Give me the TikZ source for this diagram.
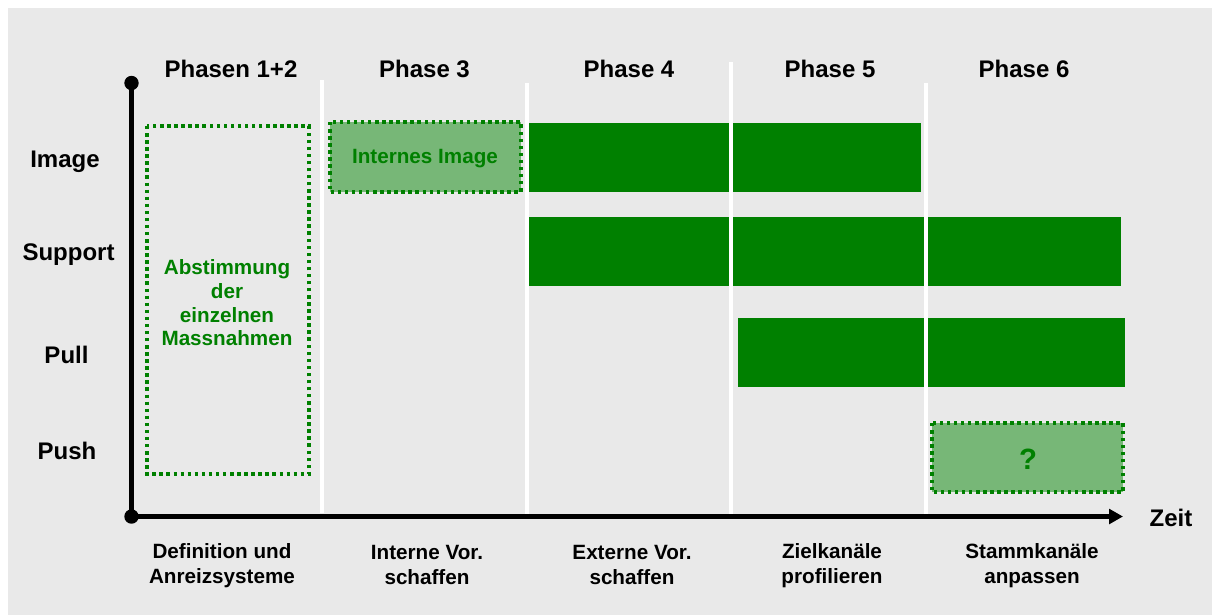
\documentclass[tikz,border=0pt]{standalone}
\usepackage{fontspec}
\setmainfont{Liberation Sans}
\usetikzlibrary{arrows.meta}

\definecolor{panelgray}{RGB}{233,233,233}
\definecolor{bargreen}{RGB}{0,128,0}
\definecolor{softgreen}{RGB}{119,183,119}

\tikzset{
  bar/.style={fill=bargreen},
  plan/.style={draw=bargreen, line width=3pt, dash pattern=on 2.6pt off 2.7pt},
  divider/.style={draw=white, line width=3.2pt},
  axis/.style={line width=3.2pt},
  phase/.style={font=\bfseries\fontsize{18}{21}\selectfont, inner sep=0.75pt},
  task/.style={font=\bfseries\fontsize{15.5}{18.75}\selectfont, align=center, inner sep=0.75pt},
  note/.style={font=\bfseries\fontsize{15.5}{17.8}\selectfont, text=bargreen, align=center, inner sep=0.75pt},
}

\begin{document}
\begin{tikzpicture}[x=0.75pt,y=0.75pt,yscale=-1,xscale=1]
\useasboundingbox (0,0) rectangle (1212,615);

%Shape: Rectangle [panel]
\fill [panelgray] (8,8) rectangle (1212,615);

%Shape: Rectangle [dotted box, phases 1+2]
\draw [plan] (147,126) rectangle (309,474);
%Shape: Rectangle [dotted box, phase 3]
\draw [plan, fill=softgreen] (330,122) rectangle (521,192);
%Shape: Rectangle [dotted box, phase 6]
\draw [plan, fill=softgreen] (932,423) rectangle (1123,492);

%Shape: Rectangle [Image]
\fill [bar] (529,123) rectangle (921,192);
%Shape: Rectangle [Support]
\fill [bar] (529,217) rectangle (1121,286);
%Shape: Rectangle [Pull]
\fill [bar] (738,318) rectangle (1125,387);

%Straight Lines [phase borders]
\draw [divider] (322,80) -- (322,513);
\draw [divider] (527,83) -- (527,515);
\draw [divider] (731,62) -- (731,515);
\draw [divider] (926,83) -- (926,515);

%Axes
\coordinate (orig) at (131.5,516.5);
\coordinate (ytop) at (131.5,83);
\coordinate (xend) at (1123,516.5);
\draw [axis] (orig) -- (ytop);
\draw [axis, -{Triangle[length=10.5pt,width=11pt]}] (orig) -- (xend);
\fill (orig) circle (5.4pt);
\fill (ytop) circle (5.4pt);

% Text Node
\draw (231,69) node (ph12) [phase] {Phasen 1+2};
% Text Node
\draw (424.5,69) node (ph3) [phase] {Phase 3};
% Text Node
\draw (629,69) node (ph4) [phase] {Phase 4};
% Text Node
\draw (830,69) node (ph5) [phase] {Phase 5};
% Text Node
\draw (1024,69) node (ph6) [phase] {Phase 6};

% Text Node
\draw (65,162) node (image) [phase] {Image};
% Text Node
\draw (68.5,255) node (support) [phase] {Support};
% Text Node
\draw (66.5,355) node (pull) [phase] {Pull};
% Text Node
\draw (67,451) node (push) [phase] {Push};
% Text Node
\draw (1171,518) node (zeit) [phase] {Zeit};

% Text Node
\draw (227,303) node (abst) [note] {Abstimmung\\der\\einzelnen\\Massnahmen};
% Text Node
\draw (425,159) node (intimg) [note] {Internes Image};
% Text Node
\draw (1028,459) node (quest) [note, font=\bfseries\fontsize{22}{26}\selectfont] {?};

% Text Node
\draw (222,566) node (t12) [task] {Definition und\\Anreizsysteme};
% Text Node
\draw (427,565) node (t3) [task] {Interne Vor.\\schaffen};
% Text Node
\draw (632,565) node (t4) [task] {Externe Vor.\\schaffen};
% Text Node
\draw (832,566) node (t5) [task] {Zielkanäle\\profilieren};
% Text Node
\draw (1032,566) node (t6) [task] {Stammkanäle\\anpassen};

\end{tikzpicture}
\end{document}
